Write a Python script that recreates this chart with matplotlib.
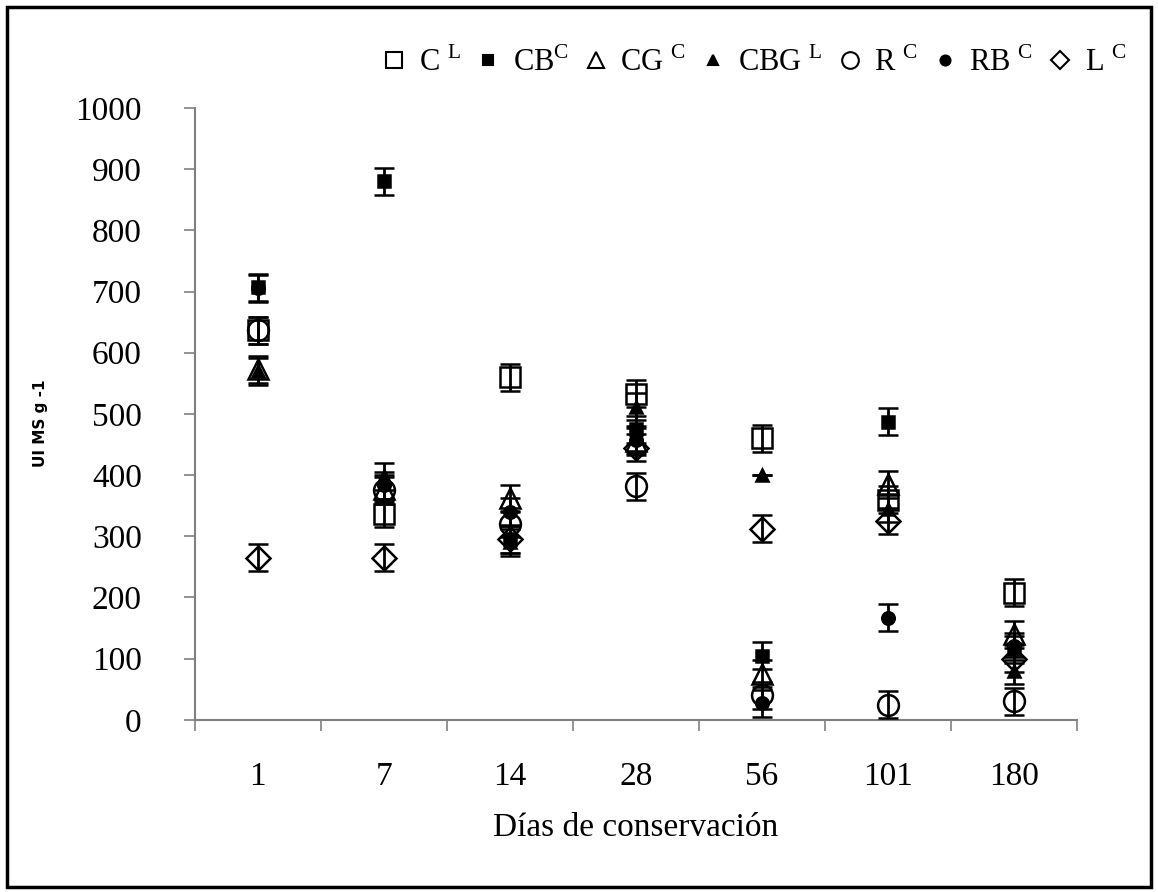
import matplotlib
matplotlib.use("Agg")
import matplotlib.pyplot as plt
import numpy as np
from matplotlib.patches import Rectangle

days = ["1", "7", "14", "28", "56", "101", "180"]
C_vals = [637, 337, 560, 533, 460, 360, 208]
CB_vals = [707, 880, 295, 475, 105, 487, 115]
CG_vals = [573, 378, 362, 455, 75, 385, 140]
CBG_vals = [570, 398, 290, 512, 400, 345, 80]
R_vals = [637, 375, 320, 382, 40, 25, 30]
RB_vals = [705, 383, 340, 458, 27, 167, 120]
L_vals = [265, 265, 295, 445, 312, 325, 100]
err = [22, 22, 22, 22, 22, 22, 22]
err_cbg = [22, 22, 22, 22, 0, 22, 22]

labels = [r"C $^{\mathrm{L}}$", r"CB$^{\mathrm{C}}$", r"CG $^{\mathrm{C}}$",
          r"CBG $^{\mathrm{L}}$", r"R $^{\mathrm{C}}$", r"RB $^{\mathrm{C}}$",
          r"L $^{\mathrm{C}}$"]

plt.rcParams['font.family'] = ['Liberation Serif', 'DejaVu Serif']
plt.rcParams['mathtext.fontset'] = 'custom'
plt.rcParams['mathtext.rm'] = 'Liberation Serif'

fig = plt.figure(figsize=(11.58, 8.92), dpi=100)
ax = fig.add_axes([0.168, 0.193, 0.762, 0.686])

x = np.arange(len(days))
series = [
    (C_vals, err, 's', 14, 'none'),
    (CB_vals, err, 's', 9, 'black'),
    (CG_vals, err, '^', 15, 'none'),
    (CBG_vals, err_cbg, '^', 9, 'black'),
    (R_vals, err, 'o', 15, 'none'),
    (RB_vals, err, 'o', 9, 'black'),
    (L_vals, err, 'D', 12, 'none'),
]
handles = []
for vals, e, m, ms, fc in series:
    ax.errorbar(x, vals, yerr=e, fmt=m, ms=ms, mfc=fc, mec='black', mew=1.8,
                ecolor='black', elinewidth=2, capsize=7, capthick=2.5,
                color='black', zorder=3)
    lh, = ax.plot([], [], m, ms=ms * 0.8, mfc=fc, mec='black', mew=1.5, color='black')
    handles.append(lh)

ax.set_xlim(-0.5, len(days) - 0.5)
ax.set_ylim(0, 1000)
ax.set_yticks(np.arange(0, 1001, 100))
ax.set_xticks(np.arange(-0.5, len(days)), labels=[""] * (len(days) + 1))
ax.set_xticks(x, labels=days, minor=True)
ax.tick_params(axis='x', which='minor', length=0, pad=30, labelsize=24)
ax.tick_params(axis='x', which='major', length=8, direction='out', color='#808080', width=1.2)
ax.tick_params(axis='y', length=8, direction='out', color='#808080', width=1.2, labelsize=24, pad=30)
for s in ['top', 'right']:
    ax.spines[s].set_visible(False)
for s in ['left', 'bottom']:
    ax.spines[s].set_color('#808080')
    ax.spines[s].set_linewidth(1.5)

ax.set_xlabel("Días de conservación", fontsize=24, labelpad=15)
fig.text(0.035, 0.525, "UI MS g -1", rotation=90, fontsize=11, fontweight='bold',
         family=['DejaVu Sans'], ha='center', va='center')

fig.legend(handles, labels, loc='center', bbox_to_anchor=(0.652, 0.93), ncol=7,
           frameon=False, fontsize=22, handlelength=0.7, handletextpad=0.45,
           columnspacing=0.55, borderpad=0)

fig.patches.append(Rectangle((0.006, 0.006), 0.988, 0.986, transform=fig.transFigure,
                             fill=False, edgecolor='black', linewidth=2.5))

fig.savefig("out.png", dpi=100)
